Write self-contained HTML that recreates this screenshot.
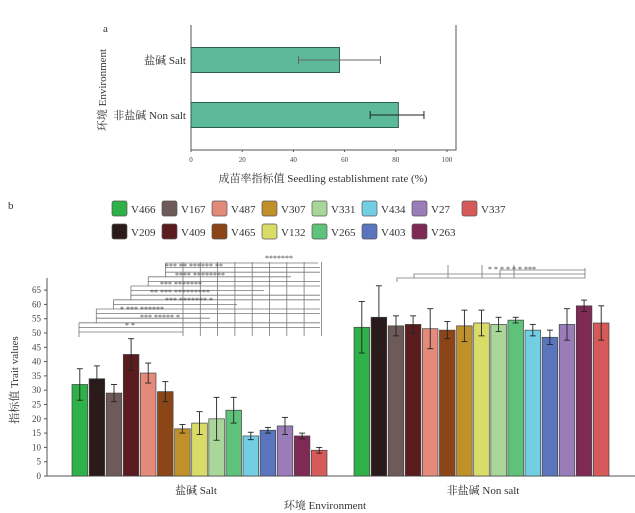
<!DOCTYPE html>
<html><head><meta charset="utf-8"><style>
body{margin:0;background:#fff;}
svg{display:block;font-family:"Liberation Serif","Noto Serif CJK SC",serif;}
</style></head><body>
<svg id="c" width="635" height="513" viewBox="0 0 635 513"></svg>
<script>
// Panel a data
const envA = ['盐碱 Salt', '非盐碱 Non salt'];
const rateA = [58, 81];
const errLoA = [42, 70];
const errHiA = [74, 91];
const ticksA = [0, 20, 40, 60, 80, 100];
// Panel b data
const varieties = ['V466','V209','V167','V409','V487','V465','V307','V132','V331','V265','V434','V403','V27','V263','V337'];
const colors = ['#2fb14a','#2a1a1a','#6e5a58','#5b1c20','#e48a7a','#8b4516','#c0902a','#dadc68','#a9d699','#5fc27a','#72cee3','#5a75bd','#9a7db8','#7e2a54','#d65a5a'];
const saltVals = [32,34,29,42.5,36,29.5,16.5,18.5,20,23,14,16,17.5,14,9];
const saltErr = [5.5,4.5,3,5.5,3.5,3.5,1.5,4,7.5,4.5,1.3,1,3,1,1];
const nonVals = [52,55.5,52.5,53,51.5,51,52.5,53.5,53,54.5,51,48.5,53,59.5,53.5];
const nonErr = [9,11,3.5,3,7,3,5.5,4.5,2.5,1,2,2.5,5.5,2,6];
const ticksB = [0,5,10,15,20,25,30,35,40,45,50,55,60,65];
const legendOrder = ['V466','V167','V487','V307','V331','V434','V27','V337','V209','V409','V465','V132','V265','V403','V263'];

const svg = document.getElementById('c');
const NS = 'http://www.w3.org/2000/svg';
function mk(tag, attrs, parent){const e=document.createElementNS(NS,tag);for(const k in attrs)e.setAttribute(k,attrs[k]);(parent||svg).appendChild(e);return e;}
function txt(s, attrs){const e=mk('text',attrs);e.textContent=s;return e;}

// ---------- Panel a ----------
const xA = v => 191 + v*2.56;
const yA = i => 60 + i*55;
let t = txt('a',{x:103,y:32,'font-size':11,fill:'#333'});


let ax = mk('path',{d:'M191 25 V150 H456 V25',fill:'none',stroke:'#555','stroke-width':1});


ticksA.forEach(v=>{
  mk('line',{x1:xA(v),x2:xA(v),y1:150,y2:152,stroke:'#555'});
  const e=txt(String(v),{x:xA(v),y:162,'font-size':7,'text-anchor':'middle',fill:'#444'});
  
  
});
rateA.forEach((v,i)=>{
  const r=mk('rect',{x:191,y:yA(i)-12.5,width:xA(v)-191,height:25,fill:'#5cb99a',stroke:'#2f5f4e','stroke-width':1});
  
  
  const c=i==0?'#666':'#222';
  mk('line',{x1:xA(errLoA[i]),x2:xA(errHiA[i]),y1:yA(i),y2:yA(i),stroke:c});
  mk('line',{x1:xA(errLoA[i]),x2:xA(errLoA[i]),y1:yA(i)-4,y2:yA(i)+4,stroke:c});
  mk('line',{x1:xA(errHiA[i]),x2:xA(errHiA[i]),y1:yA(i)-4,y2:yA(i)+4,stroke:c});
  const l=txt(envA[i],{x:186,y:yA(i)+4,'font-size':11,'text-anchor':'end',fill:'#333'});
  
  
});
t=txt('环境 Environment',{x:0,y:0,'font-size':11,'text-anchor':'middle',fill:'#333',transform:'translate(106,90) rotate(-90)'});


t=txt('成苗率指标值 Seedling establishment rate (%)',{x:323,y:182,'font-size':11,'text-anchor':'middle',fill:'#333'});



// ---------- Panel b ----------
t=txt('b',{x:8,y:209,'font-size':11,fill:'#333'});


legendOrder.forEach((n,i)=>{
  const row=i<8?0:1, col=i<8?i:i-8;
  const x=112+col*50, y=201+row*23;
  const ci=varieties.indexOf(n);
  const g=mk('g',{});
  
  
  mk('rect',{x:x,y:y,width:15,height:15,rx:2,fill:colors[ci],stroke:'#555','stroke-width':0.7},g);
  const e=document.createElementNS(NS,'text');
  e.setAttribute('x',x+19);e.setAttribute('y',y+12);e.setAttribute('font-size',11);e.setAttribute('fill','#333');
  e.textContent=n;g.appendChild(e);
});
const y0=476, sc=2.86;
const yB = v => y0 - v*sc;
ax=mk('path',{d:'M47 278 V476 H635',fill:'none',stroke:'#555','stroke-width':1});


ticksB.forEach(v=>{
  mk('line',{x1:44,x2:47,y1:yB(v),y2:yB(v),stroke:'#555'});
  const e=txt(String(v),{x:41,y:yB(v)+3,'font-size':9,'text-anchor':'end',fill:'#444'});
  
  
});
t=txt('指标值 Trait values',{x:0,y:0,'font-size':11,'text-anchor':'middle',fill:'#333',transform:'translate(18,380) rotate(-90)'});


function drawGroup(vals, errs, start, name){
  vals.forEach((v,i)=>{
    const x=start+i*17.1, w=15.6, cx=x+w/2;
    const r=mk('rect',{x:x,y:yB(v),width:w,height:v*sc,fill:colors[i],stroke:'#444','stroke-width':0.7});
    
    
    const lo=yB(v-errs[i]), hi=yB(v+errs[i]);
    mk('line',{x1:cx,x2:cx,y1:lo,y2:hi,stroke:'#222','stroke-width':0.9});
    mk('line',{x1:cx-3,x2:cx+3,y1:lo,y2:lo,stroke:'#222','stroke-width':0.9});
    mk('line',{x1:cx-3,x2:cx+3,y1:hi,y2:hi,stroke:'#222','stroke-width':0.9});
  });
}
drawGroup(saltVals, saltErr, 72, 'salt');
drawGroup(nonVals, nonErr, 354, 'nonsalt');
t=txt('盐碱 Salt',{x:196,y:494,'font-size':11,'text-anchor':'middle',fill:'#333'});


t=txt('非盐碱 Non salt',{x:483,y:494,'font-size':11,'text-anchor':'middle',fill:'#333'});


t=txt('环境 Environment',{x:325,y:509,'font-size':11,'text-anchor':'middle',fill:'#333'});



// significance brackets (salt)
const sig=mk('g',{stroke:'#777','stroke-width':0.8,fill:'none'});


for(let k=0;k<16;k++){
  const y=332-k*4.6, lx=79+Math.floor(k/2.6)*17.3;
  const rx= k%3==0?183+ (k*9)%137 : 320;
  mk('line',{x1:lx,x2:Math.max(rx,lx+60),y1:y,y2:y},sig);
  mk('line',{x1:lx,x2:lx,y1:y,y2:y+5},sig);
}
for(let x=183;x<=322;x+=17.3) mk('line',{x1:x,x2:x,y1:262,y2:336},sig);
const stars=mk('g',{'font-size':8,fill:'#444'});


const starRows=[[125,328,'* *'],[140,320,'*** ***** *'],[120,312,'* *** ******'],[165,303,'*** ******* *'],[150,295,'** *** *********'],[160,287,'*** *******'],[175,278,'**** ********'],[165,269,'*** ** ****** **'],[265,261,'*******']];
starRows.forEach(r=>{const e=document.createElementNS(NS,'text');e.setAttribute('x',r[0]);e.setAttribute('y',r[1]);e.textContent=r[2];stars.appendChild(e);});
// nonsalt brackets
const sig2=mk('g',{stroke:'#777','stroke-width':0.8,fill:'none'});


mk('path',{d:'M397 282 V278 H585 V268'},sig2);
mk('path',{d:'M414 278 V274 H585'},sig2);
mk('path',{d:'M500 278 V270 H585'},sig2);
[448,482,514].forEach(x=>mk('line',{x1:x,x2:x,y1:265,y2:278},sig2));
t=txt('* *   *   * *  * ***',{x:488,y:272,'font-size':8,fill:'#444'});


</script>
</body></html>
